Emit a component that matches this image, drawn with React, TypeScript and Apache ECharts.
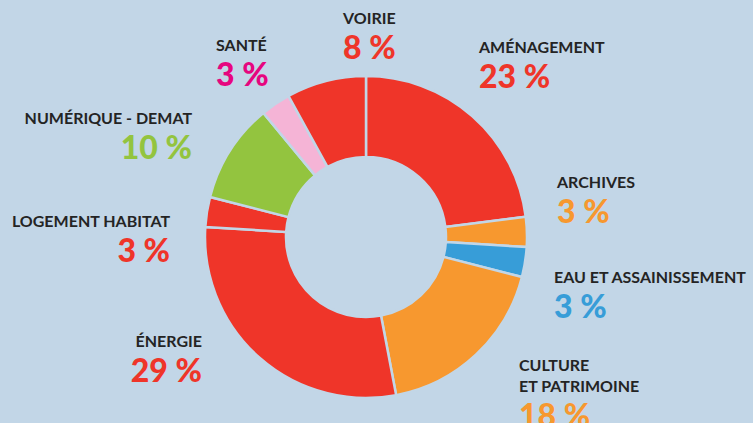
import React, { useEffect, useRef } from "react";
import * as echarts from "echarts";

const categories = [
  "AMÉNAGEMENT",
  "ARCHIVES",
  "EAU ET ASSAINISSEMENT",
  "CULTURE\nET PATRIMOINE",
  "ÉNERGIE",
  "LOGEMENT HABITAT",
  "NUMÉRIQUE - DEMAT",
  "SANTÉ",
  "VOIRIE",
];
const values = [23, 3, 3, 18, 29, 3, 10, 3, 8];
const sliceColors = ["#ef3529", "#f7982f", "#379dd8", "#f7982f", "#ef3529", "#ef3529", "#93c43f", "#f5b4d6", "#ef3529"];
const pctColors = ["#ef3529", "#f7982f", "#379dd8", "#f7982f", "#ef3529", "#ef3529", "#93c43f", "#e6067f", "#ef3529"];

// label anchor: x, center y of first name line, alignment
const labelPos: [number, number, "left" | "right"][] = [
  [479, 46, "left"],
  [557, 181, "left"],
  [554, 276, "left"],
  [519, 364, "left"],
  [202, 340, "right"],
  [170, 220, "right"],
  [192, 117, "right"],
  [216, 44, "left"],
  [343, 17, "left"],
];

const BG = "#c2d6e7";
const NAME_LH = 21;

export default function App() {
  const ref = useRef<HTMLDivElement>(null);
  useEffect(() => {
    if (!ref.current) return;
    const chart = echarts.init(ref.current, null, { renderer: "svg" });
    const data = categories.map((name, i) => {
      const align = labelPos[i][2];
      return {
        name,
        value: values[i],
        itemStyle: { color: sliceColors[i] },
        label: {
          align,
          rich: {
            n: { fontFamily: "Lato", fontWeight: "bold", fontSize: 16, color: "#242424", lineHeight: NAME_LH, align },
            p: { fontFamily: "Lato", fontWeight: 900, fontSize: 32, color: pctColors[i], lineHeight: 37, align },
          },
        },
      };
    });
    chart.setOption({
      animation: false,
      backgroundColor: BG,
      series: [
        {
          type: "pie",
          center: [366, 237],
          radius: [80, 161],
          startAngle: 90,
          clockwise: true,
          avoidLabelOverlap: false,
          itemStyle: { borderColor: BG, borderWidth: 2.5 },
          label: {
            show: true,
            position: "outside",
            formatter: (p: any) =>
              p.name
                .split("\n")
                .map((s: string) => `{n|${s}}`)
                .join("\n") + `\n{p|${p.value} %}`,
          },
          labelLine: { show: false },
          labelLayout: (params: any) => {
            const [x, yc, align] = labelPos[params.dataIndex];
            return { x, y: yc - NAME_LH / 2, align, verticalAlign: "top" };
          },
          emphasis: { disabled: true },
          data,
        },
      ],
    });
    return () => chart.dispose();
  }, []);
  return (
    <div
      ref={ref}
      style={{ position: "fixed", left: 0, top: 0, width: 753, height: 423 }}
    />
  );
}
